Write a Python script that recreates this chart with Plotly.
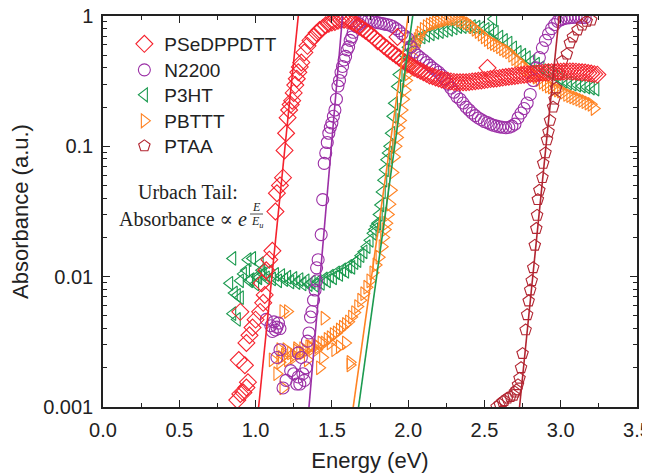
import plotly.graph_objects as go

# ---------------- data ----------------
psedppdtt_E = [0.88, 0.90, 0.92, 0.94, 0.95, 0.89, 0.93, 0.94, 0.96, 0.98, 1.00, 0.90, 1.03, 1.05, 1.06,
               1.04, 1.07, 1.09, 1.11, 1.13, 1.14, 1.16, 1.18,
               1.19, 1.20, 1.21, 1.22, 1.23, 1.24, 1.25, 1.26, 1.27, 1.28, 1.29, 1.30, 1.32, 1.34, 1.36, 1.38,
               1.40, 1.42, 1.44, 1.46, 1.48, 1.50, 1.52, 1.54, 1.56, 1.58, 1.60, 1.62, 1.64, 1.66, 1.68, 1.70,
               1.72, 1.74, 1.76, 1.78, 1.80, 1.82, 1.84, 1.86, 1.88, 1.90, 1.92, 1.94, 1.96, 1.98, 2.00, 2.02,
               2.04, 2.06, 2.08, 2.10, 2.12, 2.14, 2.16, 2.18, 2.20, 2.22, 2.24, 2.26, 2.28, 2.30, 2.32, 2.34,
               2.36, 2.38, 2.40, 2.42, 2.44, 2.46, 2.48, 2.50, 2.52, 2.54, 2.56, 2.58, 2.60, 2.62, 2.64, 2.66,
               2.68, 2.70, 2.72, 2.74, 2.76, 2.78, 2.80, 2.82, 2.84, 2.86, 2.88, 2.90, 2.92, 2.94, 2.96, 2.98,
               3.00, 3.02, 3.04, 3.06, 3.08, 3.10, 3.12, 3.14, 3.16, 3.18, 3.20, 3.22, 3.24, 1.93, 2.52]
psedppdtt_A = [0.00113, 0.00126, 0.00129, 0.00141, 0.00155, 0.00229, 0.00209, 0.0031, 0.00355, 0.00407, 0.00468,
               0.00537, 0.00537, 0.0063, 0.00724, 0.0089, 0.0112, 0.0135, 0.0158, 0.0316, 0.0437, 0.0501, 0.0575,
               0.093, 0.126, 0.166, 0.19, 0.209, 0.224, 0.257, 0.295, 0.33, 0.37, 0.407, 0.44, 0.525, 0.59, 0.65,
               0.69, 0.74, 0.78, 0.81, 0.85, 0.87, 0.89, 0.90, 0.92, 0.93, 0.935, 0.93, 0.915, 0.89, 0.865, 0.83,
               0.80, 0.77, 0.74, 0.71, 0.68, 0.64, 0.62, 0.59, 0.565, 0.54, 0.52, 0.50, 0.48, 0.46, 0.44, 0.43,
               0.415, 0.40, 0.39, 0.38, 0.37, 0.36, 0.35, 0.345, 0.338, 0.332, 0.326, 0.322, 0.318, 0.315, 0.312,
               0.31, 0.31, 0.31, 0.31, 0.312, 0.314, 0.316, 0.318, 0.32, 0.322, 0.325, 0.328, 0.33, 0.332, 0.335,
               0.337, 0.34, 0.342, 0.345, 0.347, 0.35, 0.352, 0.354, 0.356, 0.358, 0.36, 0.362, 0.364, 0.366,
               0.368, 0.37, 0.371, 0.372, 0.373, 0.374, 0.375, 0.376, 0.376, 0.375, 0.374, 0.372, 0.37, 0.368,
               0.365, 0.362, 0.358, 0.355, 0.69, 0.40]

n2200_E = [1.07, 1.10, 1.12, 1.13, 1.14, 1.15, 1.16, 1.11, 1.16, 1.14, 1.18, 1.20, 1.23, 1.25, 1.27, 1.28,
           1.29, 1.31, 1.32, 1.28, 1.30, 1.33, 1.34, 1.35, 1.36, 1.37, 1.38, 1.39, 1.40, 1.40, 1.41, 1.43,
           1.44, 1.45, 1.46, 1.47, 1.48, 1.49, 1.50, 1.51, 1.52, 1.53, 1.54, 1.55, 1.56, 1.57, 1.58, 1.59,
           1.60, 1.61, 1.62, 1.63, 1.64, 1.66, 1.68, 1.70, 1.72, 1.74, 1.76, 1.78, 1.80, 1.82, 1.84, 1.86,
           1.88, 1.90, 1.92, 1.94, 1.96, 1.98, 2.00, 2.02, 2.04, 2.06, 2.08, 2.10, 2.12, 2.14, 2.16, 2.18,
           2.20, 2.22, 2.24, 2.26, 2.28, 2.30, 2.32, 2.34, 2.36, 2.38, 2.40, 2.42, 2.44, 2.46, 2.48, 2.50,
           2.52, 2.54, 2.56, 2.58, 2.60, 2.62, 2.64, 2.66, 2.68, 2.70, 2.72, 2.74, 2.76, 2.78, 2.80, 2.82,
           2.84, 2.86, 2.88, 2.90, 2.92, 2.94, 2.96, 2.98, 3.00, 3.02, 3.04, 3.06, 3.08, 3.10, 3.12, 3.14, 3.16]
n2200_A = [0.0047, 0.0042, 0.0045, 0.0039, 0.0041, 0.0044, 0.0040, 0.0038, 0.00275, 0.0024, 0.0014, 0.0016,
           0.0019, 0.0018, 0.0015, 0.0017, 0.0015, 0.0018, 0.0016, 0.0026, 0.0024, 0.0020, 0.0032, 0.0037,
           0.0049, 0.0054, 0.0066, 0.0079, 0.0093, 0.0117, 0.0135, 0.021, 0.039, 0.074, 0.089, 0.107, 0.126,
           0.14, 0.151, 0.17, 0.19, 0.23, 0.29, 0.32, 0.37, 0.41, 0.46, 0.49, 0.55, 0.58, 0.65, 0.69, 0.75,
           0.83, 0.87, 0.91, 0.93, 0.93, 0.92, 0.90, 0.89, 0.88, 0.87, 0.86, 0.85, 0.83, 0.80, 0.77, 0.73,
           0.70, 0.67, 0.58, 0.53, 0.50, 0.48, 0.46, 0.44, 0.42, 0.40, 0.385, 0.37, 0.35, 0.33, 0.30, 0.28,
           0.26, 0.24, 0.23, 0.215, 0.20, 0.19, 0.18, 0.172, 0.165, 0.16, 0.155, 0.152, 0.148, 0.145, 0.143,
           0.141, 0.14, 0.139, 0.14, 0.143, 0.148, 0.165, 0.18, 0.195, 0.215, 0.25, 0.32, 0.40, 0.48, 0.57,
           0.65, 0.73, 0.80, 0.86, 0.91, 0.935, 0.955, 0.965, 0.97, 0.975, 0.98, 0.98, 0.975, 0.97]

p3ht_E = [0.83, 0.85, 0.85, 0.86, 0.88, 0.88, 0.90, 0.90, 0.92, 0.94, 0.95, 0.96, 0.97, 0.98, 1.00, 1.01,
          1.02, 1.03, 1.04,
          1.05, 1.07, 1.09, 1.11, 1.13, 1.15, 1.17, 1.19, 1.21, 1.23, 1.25, 1.27, 1.29, 1.31, 1.33, 1.35,
          1.37, 1.39, 1.41, 1.43, 1.45, 1.47, 1.49, 1.51, 1.53, 1.55, 1.57, 1.59, 1.61, 1.63, 1.65, 1.67,
          1.69, 1.71, 1.73, 1.75, 1.77, 1.78, 1.79, 1.80, 1.81, 1.82, 1.83, 1.84, 1.85, 1.86, 1.87, 1.88,
          1.89, 1.90, 1.91, 1.93, 1.94, 1.96, 1.98, 2.00, 2.03, 2.06, 2.09, 2.12, 2.15, 2.18, 2.21, 2.24,
          2.27, 2.30, 2.33, 2.36, 2.39, 2.42, 2.45, 2.48, 2.51, 2.54, 2.57, 2.60, 2.63, 2.66, 2.69, 2.72,
          2.75, 2.78, 2.81, 2.84, 2.87, 2.90, 2.93, 2.96, 2.99, 3.02, 3.05, 3.08, 3.11, 3.14, 3.17, 3.20,
          3.23, 2.56]
p3ht_A = [0.0089, 0.0138, 0.0052, 0.0075, 0.0072, 0.0047, 0.0093, 0.0069, 0.0105, 0.0112, 0.0135, 0.0093,
          0.0095, 0.0138, 0.0088, 0.0100, 0.0098, 0.0126, 0.0112,
          0.0105, 0.0098, 0.0110, 0.0096, 0.0104, 0.0093, 0.0102, 0.0095, 0.0099, 0.0091, 0.0097, 0.0090,
          0.0095, 0.0088, 0.0093, 0.0087, 0.0091, 0.0086, 0.0092, 0.0089, 0.0096, 0.0093, 0.0101, 0.0098,
          0.0107, 0.0104, 0.0113, 0.0110, 0.0120, 0.0118, 0.0128, 0.0133, 0.0145, 0.0155, 0.0170, 0.0190,
          0.0215, 0.0230, 0.0245, 0.0257, 0.0300, 0.0355, 0.0447, 0.055, 0.066, 0.079, 0.089, 0.100, 0.126,
          0.170, 0.214, 0.288, 0.355, 0.437, 0.50, 0.575, 0.63, 0.66, 0.69, 0.71, 0.73, 0.75, 0.76, 0.775,
          0.79, 0.81, 0.83, 0.83, 0.83, 0.83, 0.82, 0.81, 0.79, 0.78, 0.75, 0.69, 0.65, 0.62, 0.57, 0.525,
          0.50, 0.479, 0.45, 0.427, 0.40, 0.38, 0.365, 0.35, 0.335, 0.315, 0.305, 0.30, 0.295, 0.29, 0.285,
          0.28, 0.275, 0.95]

pbttt_E = [1.11, 1.14, 1.16, 1.18, 1.18, 1.20, 1.21, 1.16, 1.25, 1.27, 1.31, 1.34, 1.36, 1.40, 1.42, 1.44,
           1.45, 1.49, 1.52, 1.55, 1.59, 1.62, 1.62,
           1.17, 1.19, 1.21, 1.23, 1.25, 1.27, 1.29, 1.31, 1.33, 1.35, 1.37, 1.39, 1.41, 1.43, 1.45, 1.47,
           1.49, 1.51, 1.53, 1.55, 1.57, 1.59, 1.61, 1.63, 1.65, 1.67, 1.69, 1.71, 1.73, 1.75, 1.77, 1.79,
           1.81, 1.83, 1.84, 1.85, 1.86, 1.87, 1.88, 1.89, 1.90, 1.91, 1.92, 1.93, 1.94, 1.95, 1.96, 1.97,
           1.98, 1.99, 2.00, 2.01, 2.02, 2.03, 2.04, 2.05, 2.06, 2.07, 2.08, 2.10, 2.12, 2.14, 2.16, 2.18,
           2.20, 2.22, 2.24, 2.26, 2.28, 2.30, 2.32, 2.34, 2.36, 2.38, 2.40, 2.42, 2.44, 2.46, 2.48, 2.50,
           2.52, 2.54, 2.56, 2.58, 2.60, 2.62, 2.64, 2.66, 2.68, 2.70, 2.72, 2.74, 2.76, 2.78, 2.80, 2.82,
           2.84, 2.86, 2.88, 2.90, 2.92, 2.94, 2.96, 2.98, 3.00, 3.02, 3.04, 3.06, 3.08, 3.10, 3.12, 3.14,
           3.16, 3.18, 3.20, 3.22]
pbttt_A = [0.0023, 0.0018, 0.00275, 0.0014, 0.0054, 0.00275, 0.0054, 0.0022, 0.0024, 0.0028, 0.0026, 0.0023,
           0.0029, 0.00275, 0.0020, 0.0024, 0.0048, 0.0031, 0.00275, 0.0029, 0.0031, 0.0022, 0.0021,
           0.0024, 0.0025, 0.0023, 0.0026, 0.0025, 0.0027, 0.0026, 0.0028, 0.0027, 0.0029, 0.0028, 0.0030,
           0.0029, 0.0031, 0.0031, 0.0033, 0.0034, 0.0036, 0.0037, 0.0039, 0.0041, 0.0043, 0.0045, 0.0049,
           0.0053, 0.0059, 0.0066, 0.0074, 0.0083, 0.0093, 0.0107, 0.0123, 0.0141, 0.017, 0.020, 0.023,
           0.0257, 0.030, 0.036, 0.046, 0.063, 0.083, 0.10, 0.117, 0.138, 0.158, 0.19, 0.23, 0.27, 0.32,
           0.36, 0.41, 0.45, 0.49, 0.575, 0.62, 0.66, 0.70, 0.74, 0.79, 0.83, 0.855, 0.87, 0.885, 0.90,
           0.915, 0.93, 0.945, 0.955, 0.955, 0.95, 0.93, 0.91, 0.89, 0.87, 0.83, 0.79, 0.76, 0.725, 0.69,
           0.66, 0.63, 0.615, 0.60, 0.58, 0.56, 0.545, 0.53, 0.50, 0.47, 0.455, 0.43, 0.40, 0.39, 0.37,
           0.355, 0.34, 0.325, 0.31, 0.30, 0.29, 0.285, 0.275, 0.27, 0.265, 0.26, 0.25, 0.245, 0.24, 0.235,
           0.23, 0.225, 0.22, 0.215, 0.21, 0.195]

ptaa_E = [2.58, 2.60, 2.62, 2.63, 2.65, 2.67, 2.69, 2.70, 2.71, 2.72, 2.73, 2.74, 2.75, 2.77, 2.78, 2.79,
          2.80, 2.81, 2.82, 2.83, 2.84, 2.845, 2.85, 2.86, 2.88, 2.885, 2.90, 2.91, 2.92, 2.93, 2.95, 2.96,
          2.97, 2.99, 3.01, 3.04, 3.06, 3.08, 3.11, 3.14, 3.17, 3.20]
ptaa_A = [0.0010, 0.00105, 0.0011, 0.00112, 0.00117, 0.0012, 0.00123, 0.0013, 0.00135, 0.00148, 0.00166,
          0.0020, 0.00257, 0.0039, 0.0051, 0.0065, 0.0079, 0.0093, 0.0117, 0.0174, 0.0234, 0.0295, 0.039,
          0.046, 0.0575, 0.074, 0.089, 0.112, 0.129, 0.158, 0.20, 0.23, 0.28, 0.36, 0.45, 0.51, 0.62, 0.69,
          0.78, 0.85, 0.91, 0.93]

# Urbach-tail fit lines: energy where each fit crosses A = 0.001 and A = 1
fit_E_low = [1.02, 1.35, 1.675, 1.64, 2.73]
fit_E_high = [1.28, 1.57, 2.03, 2.00, 2.99]
fit_A = [0.001, 1.0]

names = ["PSeDPPDTT", "N2200", "P3HT", "PBTTT", "PTAA"]
colors = ["#f5222d", "#9b2fa6", "#1b9a4f", "#ff8222", "#b22531"]
symbols = ["diamond-open", "circle-open", "triangle-left-open", "triangle-right-open", "pentagon-open"]
sizes = [13, 12, 12, 12, 12]
series = [(psedppdtt_E, psedppdtt_A), (n2200_E, n2200_A), (p3ht_E, p3ht_A),
          (pbttt_E, pbttt_A), (ptaa_E, ptaa_A)]
legend_ids = ["legend", "legend2", "legend3", "legend4", "legend5"]
legend_item_y = [44, 70, 95, 121, 146]   # pixel centres of legend rows in the reference

# page body has an 8px default margin: compensate so the plot area lands at 103..637 x 16..407
W, H = 642, 465
ML, MR, MT, MB = 95, 13, 8, 66
plot_w = W - ML - MR
plot_h = H - MT - MB


def px(sx):  # screen x pixel -> paper x
    return (sx - 103) / plot_w


def py(sy):  # screen y pixel -> paper y
    return 1 - (sy - 16) / plot_h


# draw order: green, orange, purple, PTAA, red on top
draw_order = [2, 3, 1, 4, 0]

fig = go.Figure()
for i in draw_order:
    E, A = series[i]
    fig.add_trace(go.Scatter(
        x=E, y=A, mode="markers", name=names[i], legend=legend_ids[i],
        marker=dict(symbol=symbols[i], size=sizes[i], color=colors[i],
                    line=dict(width=1.1, color=colors[i])),
    ))
for i in draw_order:
    fig.add_trace(go.Scatter(
        x=[fit_E_low[i], fit_E_high[i]], y=fit_A, mode="lines", showlegend=False,
        line=dict(color=colors[i], width=1.6), hoverinfo="skip",
    ))

axis_common = dict(
    showline=True, linecolor="#222", linewidth=1.5, mirror="ticks",
    ticks="inside", tickcolor="#222", tickwidth=1.3, ticklen=7,
    showgrid=False, zeroline=False, automargin=False, ticklabeloverflow="allow",
    tickfont=dict(family="Liberation Sans, Arial, sans-serif", size=20, color="#222"),
)

legend_font = dict(family="Liberation Sans, Arial, sans-serif", size=19, color="#222")
legends = {}
for k, lid in enumerate(legend_ids):
    legends[lid] = dict(x=0.04, y=py(legend_item_y[k]), xanchor="left", yanchor="middle",
                        bgcolor="rgba(0,0,0,0)", font=legend_font, itemsizing="trace")

serif = "Liberation Serif, DejaVu Serif, serif"
fig.update_layout(
    width=W, height=H,
    margin=dict(l=ML, r=MR, t=MT, b=MB, autoexpand=False),
    paper_bgcolor="white", plot_bgcolor="white",
    xaxis=dict(**axis_common, range=[0, 3.5], dtick=0.5, tickformat=".1f",
               minor=dict(dtick=0.25, ticks="inside", ticklen=4, tickcolor="#222", tickwidth=1.2),
               ticklabelstandoff=4,
               title=dict(text="Energy (eV)", standoff=13,
                          font=dict(family="Liberation Sans, Arial, sans-serif", size=22, color="#222"))),
    yaxis=dict(**axis_common, type="log", range=[-3, 0],
               tickvals=[0.001, 0.01, 0.1, 1], ticktext=["0.001", "0.01", "0.1", "1"],
               minor=dict(ticks="inside", ticklen=4, tickcolor="#222", tickwidth=1.2,
                          tickvals=[m * d for d in [0.001, 0.01, 0.1] for m in range(2, 10)]),
               ticklabelstandoff=4,
               title=dict(text="Absorbance (a.u.)", standoff=8,
                          font=dict(family="Liberation Sans, Arial, sans-serif", size=22, color="#222"))),
    showlegend=True,
    annotations=[
        dict(text="Urbach Tail:", xref="paper", yref="paper", x=px(188), y=py(192),
             showarrow=False, xanchor="center", yanchor="middle",
             font=dict(family=serif, size=20, color="#222")),
        dict(text="Absorbance ∝ <i>e</i>", xref="paper", yref="paper",
             x=px(249), y=py(219), showarrow=False, xanchor="right", yanchor="middle",
             font=dict(family=serif, size=20, color="#222")),
        dict(text="<i>E</i>", xref="paper", yref="paper",
             x=px(256), y=py(207), showarrow=False, xanchor="center", yanchor="middle",
             font=dict(family=serif, size=12, color="#222")),
        dict(text="<i>E</i><sub><i>u</i></sub>", xref="paper", yref="paper",
             x=px(257), y=py(222), showarrow=False, xanchor="center", yanchor="middle",
             font=dict(family=serif, size=12, color="#222")),
    ],
    shapes=[dict(type="line", xref="paper", yref="paper", x0=px(250), x1=px(263),
                 y0=py(214), y1=py(214), line=dict(color="#222", width=0.8))],
    **legends,
)

fig.write_html("out.html")
